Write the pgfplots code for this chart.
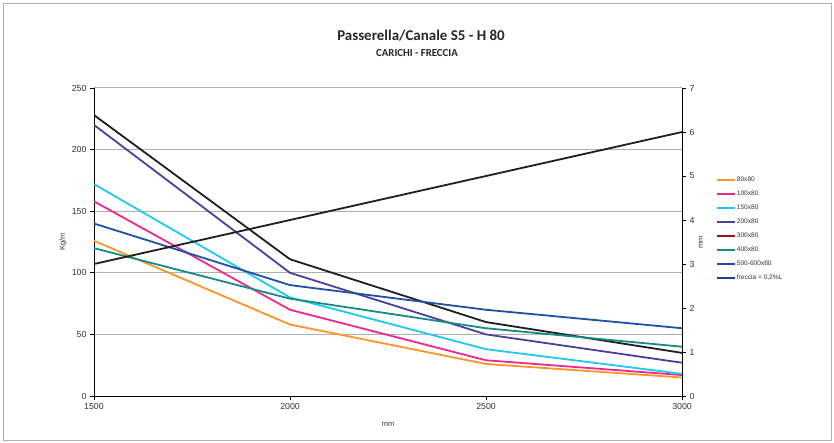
\documentclass[border=0pt]{standalone}
\usepackage{fontspec}
\setmainfont{Liberation Sans}
\newfontfamily\calibri{Carlito}
\usepackage{pgfplots}
\pgfplotsset{compat=1.18}
\definecolor{cOrange}{RGB}{250,150,40}
\definecolor{cPink}{RGB}{236,40,140}
\definecolor{cCyan}{RGB}{30,200,245}
\definecolor{cPurple}{RGB}{80,60,160}
\definecolor{cBlack}{RGB}{30,30,30}
\definecolor{cRed}{RGB}{150,20,30}
\definecolor{cTeal}{RGB}{20,140,130}
\definecolor{cBlue}{RGB}{30,80,165}
\definecolor{cNavy}{RGB}{30,60,150}
\definecolor{cGrid}{RGB}{175,175,175}
\begin{document}
\begin{tikzpicture}
\useasboundingbox (0,0) rectangle (834bp,443bp);
\draw[cGrid, line width=0.6bp] (3bp,3bp) rectangle (831bp,440bp);
\node[font=\calibri\bfseries\fontsize{15}{17}\selectfont, text=black!85] at (421bp,407bp) {Passerella/Canale S5 - H 80};
\node[font=\calibri\bfseries\fontsize{10.8}{12}\selectfont, text=black!85] at (417bp,390bp) {CARICHI - FRECCIA};
\begin{axis}[
  at={(94bp,47bp)}, anchor=south west, scale only axis,
  width=588bp, height=308bp,
  xmin=1500, xmax=3000, ymin=0, ymax=250,
  xtick={1500,2000,2500,3000}, ytick={0,50,100,150,200,250},
  axis x line*=bottom, axis y line*=left,
  axis line style={-, black, line width=0.9bp},
  ymajorgrids, grid style={cGrid, line width=1bp},
  tick style={black, line width=0.7bp}, major tick length=4bp, tick align=outside,
  tick label style={font=\fontsize{8.8}{10}\selectfont, text=black!80},
  /pgf/number format/assume math mode=true,
  /pgf/number format/1000 sep={},
  xlabel={mm}, ylabel={Kg/m},
  label style={font=\fontsize{7.5}{9}\selectfont, text=black!80},
  xlabel style={at={(axis description cs:0.5,0)}, anchor=center, yshift=-28bp},
  ylabel style={at={(axis description cs:-0.0527,0.5)}, anchor=center},
  every axis plot/.append style={line width=1.8bp},
]
\addplot[cOrange] coordinates {(1500,126) (2000,58) (2500,26) (3000,15)};
\addplot[cPink] coordinates {(1500,158) (2000,70) (2500,29) (3000,17)};
\addplot[cCyan] coordinates {(1500,172) (2000,80) (2500,38) (3000,18)};
\addplot[cPurple] coordinates {(1500,220) (2000,100) (2500,50) (3000,27)};
\addplot[cBlack] coordinates {(1500,228) (2000,111) (2500,60) (3000,35)};
\addplot[cTeal] coordinates {(1500,120) (2000,79) (2500,55) (3000,40)};
\addplot[cBlue] coordinates {(1500,140) (2000,90) (2500,70) (3000,55)};
\end{axis}
\begin{axis}[
  at={(94bp,47bp)}, anchor=south west, scale only axis,
  width=588bp, height=308bp,
  xmin=1500, xmax=3000, ymin=0, ymax=7,
  ytick={0,1,...,7},
  axis y line*=right, axis x line=none,
  axis line style={-, black, line width=0.9bp},
  tick style={black, line width=0.7bp}, major tick length=4bp, tick align=outside,
  tick label style={font=\fontsize{8.8}{10}\selectfont, text=black!80},
  /pgf/number format/assume math mode=true,
  ylabel={mm},
  label style={font=\fontsize{7.5}{9}\selectfont, text=black!80},
  ylabel style={at={(axis description cs:1.032,0.5)}, anchor=center},
  legend style={at={(axis description cs:1.058,0.714)}, anchor=north west,
    draw=none, fill=none, font=\fontsize{6.6}{7.5}\selectfont, text=black!80,
    row sep=6.3bp, inner sep=0pt, nodes={inner sep=0.8bp, anchor=west}},
  legend cell align=left,
  legend image code/.code={\draw[#1, line width=1.8bp] (0bp,0bp) -- (18bp,0bp);},
]
\addlegendimage{cOrange}\addlegendentry{80x80}
\addlegendimage{cPink}\addlegendentry{100x80}
\addlegendimage{cCyan}\addlegendentry{150x80}
\addlegendimage{cPurple}\addlegendentry{200x80}
\addlegendimage{cRed}\addlegendentry{300x80}
\addlegendimage{cTeal}\addlegendentry{400x80}
\addlegendimage{cBlue}\addlegendentry{500-600x80}
\addlegendimage{cNavy}\addlegendentry{freccia = 0,2\%L}
\addplot[cBlack, line width=1.8bp, forget plot] coordinates {(1500,3) (2000,4) (2500,5) (3000,6)};
\end{axis}
\end{tikzpicture}
\end{document}
